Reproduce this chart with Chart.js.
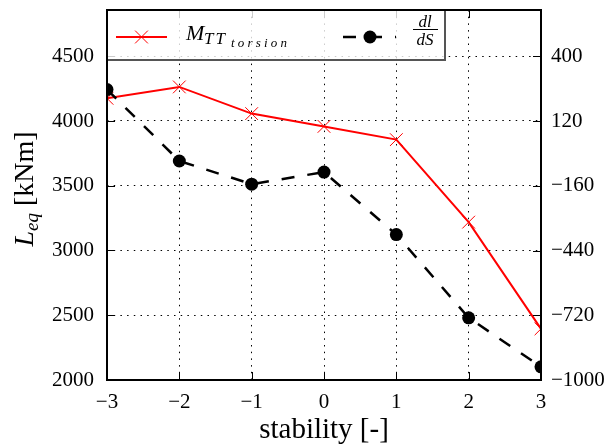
<!DOCTYPE html>
<html><head><meta charset="utf-8">
<script src="https://cdn.jsdelivr.net/npm/chart.js@4"></script>
<style>html,body{margin:0;padding:0;background:#fff}#wrap{width:612px;height:446px;position:relative}</style>
</head><body><div id="wrap"><canvas id="c" width="612" height="446"></canvas></div>
<script>
const stability = [-3, -2, -1, 0, 1, 2, 3];
const mttTorsion = [4175, 4263, 4057, 3958, 3856, 3219, 2395];
const dlDS = [256, -53, -153, -101, -371, -731, -943];
const leftTicks = [2000, 2500, 3000, 3500, 4000, 4500];
const rightTicks = [-1000, -720, -440, -160, 120, 400];
const xTicks = [-3, -2, -1, 0, 1, 2, 3];
const xTitle = 'stability [-]';
const yTitleMain = 'L', yTitleSub = 'eq', yTitleUnit = ' [kNm]';

const SERIF = '"Liberation Serif", "DejaVu Serif", serif';
const fmt = v => (v < 0 ? '\u2212' + Math.abs(v) : String(v));

const overlay = {
  id: 'overlay',
  afterDraw(chart) {
    const ctx = chart.ctx, a = chart.chartArea;
    const x = chart.scales.x, yl = chart.scales.y, yr = chart.scales.y2;
    ctx.save();
    ctx.strokeStyle = '#000'; ctx.lineWidth = 1; ctx.setLineDash([]);
    ctx.beginPath();
    xTicks.forEach(v => { const px = Math.round(x.getPixelForValue(v)) + 0.5;
      ctx.moveTo(px, a.bottom); ctx.lineTo(px, a.bottom - 8);
      ctx.moveTo(px, a.top); ctx.lineTo(px, a.top + 8); });
    leftTicks.forEach(v => { const py = Math.round(yl.getPixelForValue(v)) + 0.5;
      ctx.moveTo(a.left, py); ctx.lineTo(a.left + 8, py); });
    rightTicks.forEach(v => { const py = Math.round(yr.getPixelForValue(v)) + 0.5;
      ctx.moveTo(a.right, py); ctx.lineTo(a.right - 8, py); });
    ctx.stroke();

    // legend
    const lx = a.left, ly = a.top, lw = 338, lh = 50;
    ctx.fillStyle = 'rgba(255,255,255,0.8)';
    ctx.fillRect(lx, ly, lw, lh);
    ctx.strokeStyle = '#555'; ctx.lineWidth = 2;
    ctx.strokeRect(lx, ly, lw, lh);
    // red sample
    ctx.strokeStyle = '#ff0000'; ctx.lineWidth = 2;
    ctx.beginPath(); ctx.moveTo(116, 37); ctx.lineTo(167, 37); ctx.stroke();
    ctx.lineWidth = 1; ctx.beginPath();
    const d = 6.4;
    ctx.moveTo(141.5 - d, 37 - d); ctx.lineTo(141.5 + d, 37 + d);
    ctx.moveTo(141.5 - d, 37 + d); ctx.lineTo(141.5 + d, 37 - d); ctx.stroke();
    // red label
    ctx.fillStyle = '#000'; ctx.textBaseline = 'alphabetic'; ctx.textAlign = 'left';
    ctx.font = 'italic 22px ' + SERIF; ctx.fillText('M', 186, 40);
    ctx.font = 'italic 17px ' + SERIF; ctx.letterSpacing = '2px'; ctx.fillText('TT', 204, 44);
    ctx.font = 'italic 13px ' + SERIF; ctx.letterSpacing = '3.2px'; ctx.fillText('torsion', 231, 47);
    ctx.letterSpacing = '0px';
    // black sample
    ctx.strokeStyle = '#000'; ctx.lineWidth = 2.5; ctx.setLineDash([13, 13]);
    ctx.beginPath(); ctx.moveTo(343, 37); ctx.lineTo(396, 37); ctx.stroke();
    ctx.setLineDash([]);
    ctx.beginPath(); ctx.arc(370, 37, 6.5, 0, Math.PI * 2); ctx.fill();
    // fraction
    ctx.textAlign = 'center';
    ctx.font = 'italic 17px ' + SERIF;
    ctx.fillText('dl', 425, 27);
    ctx.fillText('dS', 425, 45);
    ctx.lineWidth = 1; ctx.beginPath(); ctx.moveTo(413, 29.5); ctx.lineTo(438, 29.5); ctx.stroke();

    // frame
    ctx.strokeStyle = '#000'; ctx.lineWidth = 2;
    ctx.strokeRect(a.left, a.top, a.right - a.left, a.bottom - a.top);

    // x title
    ctx.fillStyle = '#000'; ctx.textAlign = 'center';
    ctx.font = '29px ' + SERIF;
    ctx.fillText(xTitle, (a.left + a.right) / 2, 438);

    // y title
    ctx.translate(33, 189); ctx.rotate(-Math.PI / 2);
    ctx.textAlign = 'left';
    const fM = 'italic 28px ' + SERIF, fS = 'italic 19px ' + SERIF, fU = '28px ' + SERIF;
    ctx.font = fM; const w1 = ctx.measureText(yTitleMain).width;
    ctx.font = fS; const w2 = ctx.measureText(yTitleSub).width;
    ctx.font = fU; const w3 = ctx.measureText(yTitleUnit).width;
    let sx = -(w1 + w2 + w3) / 2;
    ctx.font = fM; ctx.fillText(yTitleMain, sx, 0); sx += w1;
    ctx.font = fS; ctx.fillText(yTitleSub, sx, 5); sx += w2;
    ctx.font = fU; ctx.fillText(yTitleUnit, sx, 0);
    ctx.restore();
  }
};

new Chart(document.getElementById('c'), {
  type: 'line',
  data: {
    datasets: [
      { label: 'MTT torsion', yAxisID: 'y',
        data: stability.map((s, i) => ({ x: s, y: mttTorsion[i] })),
        borderColor: '#ff0000', borderWidth: 2, tension: 0, fill: false,
        pointStyle: 'crossRot', pointRadius: 9, pointBorderWidth: 1,
        pointBorderColor: '#ff0000', pointBackgroundColor: '#ff0000', order: 2 },
      { label: 'dl/dS', yAxisID: 'y2',
        data: stability.map((s, i) => ({ x: s, y: dlDS[i] })),
        borderColor: '#000', borderWidth: 2.5, borderDash: [13, 13], tension: 0, fill: false,
        pointStyle: 'circle', pointRadius: 6.5, pointBorderWidth: 0,
        pointBackgroundColor: '#000', pointBorderColor: '#000', order: 1 }
    ]
  },
  options: {
    responsive: false, animation: false, devicePixelRatio: 1,
    layout: { padding: { top: 10, left: 0, right: 0, bottom: 0 } },
    plugins: { legend: { display: false }, tooltip: { enabled: false } },
    scales: {
      x: { type: 'linear', min: -3, max: 3, position: 'bottom',
        afterBuildTicks: s => { s.ticks = xTicks.map(v => ({ value: v })); },
        afterFit: s => { s.height = 66; s.paddingLeft = 0; s.paddingRight = 0; s.paddingTop = 0; s.paddingBottom = 0; },
        ticks: { callback: v => fmt(v), color: '#000', padding: 10, maxRotation: 0,
          font: { family: SERIF, size: 21 } },
        grid: { color: '#000', lineWidth: 1, drawTicks: false },
        border: { display: false, dash: [1.5, 5.2] } },
      y: { type: 'linear', min: 2000, max: 4857, position: 'left',
        afterBuildTicks: s => { s.ticks = leftTicks.map(v => ({ value: v })); },
        afterFit: s => { s.width = 107; s.paddingTop = 0; s.paddingBottom = 0; s.paddingLeft = 0; s.paddingRight = 0; },
        ticks: { callback: v => fmt(v), color: '#000', padding: 13,
          font: { family: SERIF, size: 21 } },
        grid: { color: '#000', lineWidth: 1, drawTicks: false },
        border: { display: false, dash: [1.5, 5.2] } },
      y2: { type: 'linear', min: -1000, max: 600, position: 'right',
        afterBuildTicks: s => { s.ticks = rightTicks.map(v => ({ value: v })); },
        afterFit: s => { s.width = 71; s.paddingTop = 0; s.paddingBottom = 0; s.paddingLeft = 0; s.paddingRight = 0; },
        ticks: { callback: v => fmt(v), color: '#000', padding: 10,
          font: { family: SERIF, size: 21 } },
        grid: { display: false, drawTicks: false },
        border: { display: false } }
    }
  },
  plugins: [overlay]
});
</script></body></html>
